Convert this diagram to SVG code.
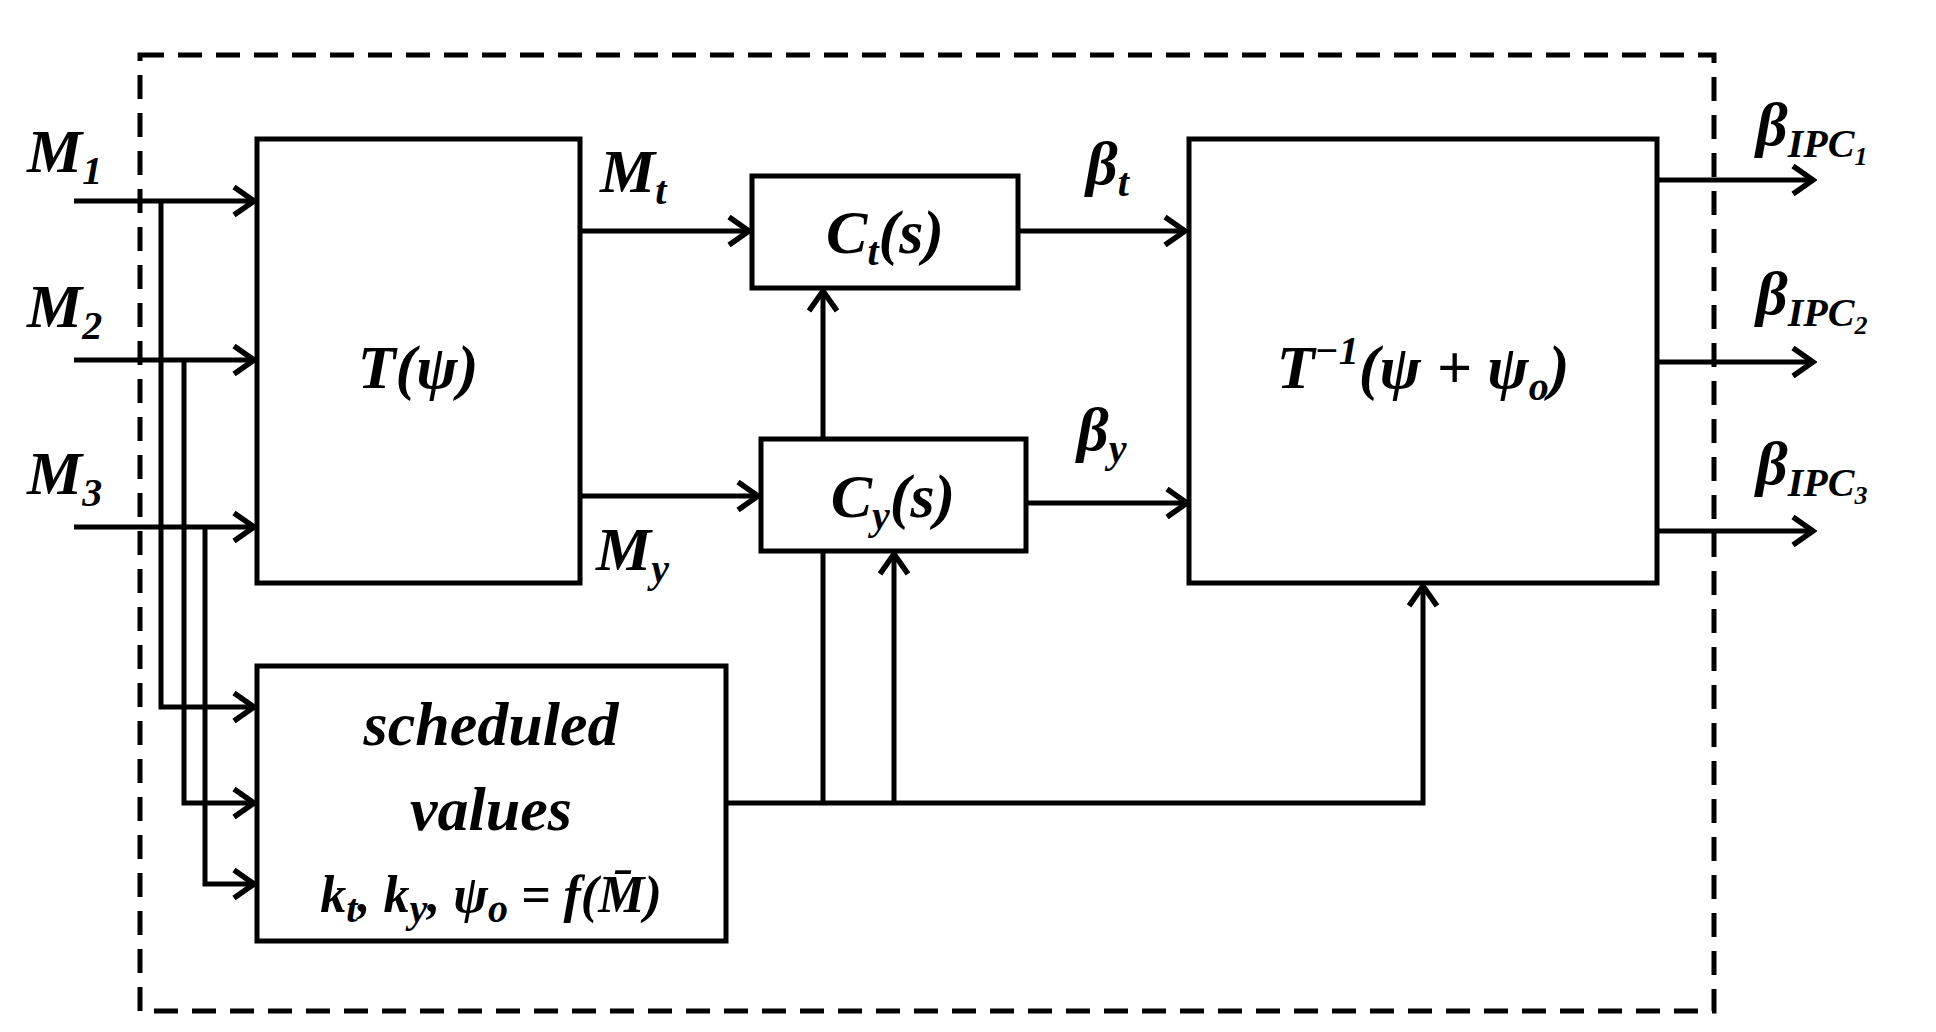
<svg xmlns="http://www.w3.org/2000/svg" width="1936" height="1032" viewBox="0 0 1936 1032">
<style>
.b{fill:#fff;stroke:#000;stroke-width:5}
.c{fill:none;stroke:#000;stroke-width:5}
.t{font-family:"Liberation Serif",serif;font-weight:bold;font-style:italic;font-size:62px;fill:#000}
.s{font-size:40px}
</style>
<defs>
<marker id="h" viewBox="-24 -16 28 32" refX="0" refY="0" markerWidth="28" markerHeight="32" markerUnits="userSpaceOnUse" orient="auto"><path d="M-20,-14 L0,0 L-20,14" fill="none" stroke="#000" stroke-width="5.5"/></marker></defs>
<rect x="140" y="55" width="1574" height="956" fill="none" stroke="#000" stroke-width="5" stroke-dasharray="24,14"/>
<g id="connectors" class="c">
<path d="M74,201 H254" marker-end="url(#h)"/>
<path d="M74,360 H254" marker-end="url(#h)"/>
<path d="M74,527 H254" marker-end="url(#h)"/>
<path d="M161,201 V707 H254" marker-end="url(#h)"/>
<path d="M184,360 V803 H254" marker-end="url(#h)"/>
<path d="M205,527 V884 H254" marker-end="url(#h)"/>
<path d="M580,231 H749" marker-end="url(#h)"/>
<path d="M580,496 H758" marker-end="url(#h)"/>
<path d="M1018,231 H1185" marker-end="url(#h)"/>
<path d="M1026,503 H1187" marker-end="url(#h)"/>
<path d="M726,803 H1423 V586" marker-end="url(#h)"/>
<path d="M823,803 V551"/>
<path d="M823,439 V291" marker-end="url(#h)"/>
<path d="M894,803 V554" marker-end="url(#h)"/>
<path d="M1657,180 H1813" marker-end="url(#h)"/>
<path d="M1657,362 H1813" marker-end="url(#h)"/>
<path d="M1657,531 H1813" marker-end="url(#h)"/>
</g>
<g id="T"><rect class="b" x="257" y="139" width="323" height="444"/><text class="t" x="418" y="388" text-anchor="middle">T(ψ)</text></g>
<g id="Ct"><rect class="b" x="752" y="176" width="266" height="112"/><text class="t" x="885" y="253" text-anchor="middle">C<tspan class="s" dy="12">t</tspan><tspan dy="-12">(s)</tspan></text></g>
<g id="Cy"><rect class="b" x="761" y="439" width="265" height="112"/><text class="t" x="893" y="517" text-anchor="middle">C<tspan class="s" dy="12">y</tspan><tspan dy="-12">(s)</tspan></text></g>
<g id="Tinv"><rect class="b" x="1189" y="139" width="468" height="444"/><text class="t" x="1423" y="388" text-anchor="middle">T<tspan class="s" dy="-24">−1</tspan><tspan dy="24">(ψ + ψ</tspan><tspan class="s" dy="12">o</tspan><tspan dy="-12">)</tspan></text></g>
<g id="sched"><rect class="b" x="257" y="666" width="469" height="275"/>
<text class="t" x="491" y="745" text-anchor="middle">scheduled</text>
<text class="t" x="491" y="830" text-anchor="middle">values</text>
<text class="t" x="491" y="912" text-anchor="middle" style="font-size:52px">k<tspan class="s" dy="10">t</tspan><tspan dy="-10">, k</tspan><tspan class="s" dy="10">y</tspan><tspan dy="-10">, ψ</tspan><tspan class="s" dy="10">o</tspan><tspan dy="-10"> = f(M̄)</tspan></text></g>
<g id="labels">
<text class="t" x="27" y="172">M<tspan class="s" dy="12">1</tspan></text>
<text class="t" x="27" y="327">M<tspan class="s" dy="12">2</tspan></text>
<text class="t" x="27" y="494">M<tspan class="s" dy="12">3</tspan></text>
<text class="t" x="600" y="192">M<tspan class="s" dy="12">t</tspan></text>
<text class="t" x="596" y="570">M<tspan class="s" dy="12">y</tspan></text>
<text class="t" x="1086" y="184">β<tspan class="s" dy="12">t</tspan></text>
<text class="t" x="1077" y="450">β<tspan class="s" dy="12">y</tspan></text>
<text class="t" x="1756" y="145">β<tspan class="s" dy="12">IPC</tspan><tspan style="font-size:26px" dy="8">1</tspan></text>
<text class="t" x="1756" y="314">β<tspan class="s" dy="12">IPC</tspan><tspan style="font-size:26px" dy="8">2</tspan></text>
<text class="t" x="1756" y="484">β<tspan class="s" dy="12">IPC</tspan><tspan style="font-size:26px" dy="8">3</tspan></text>
</g>
</svg>
